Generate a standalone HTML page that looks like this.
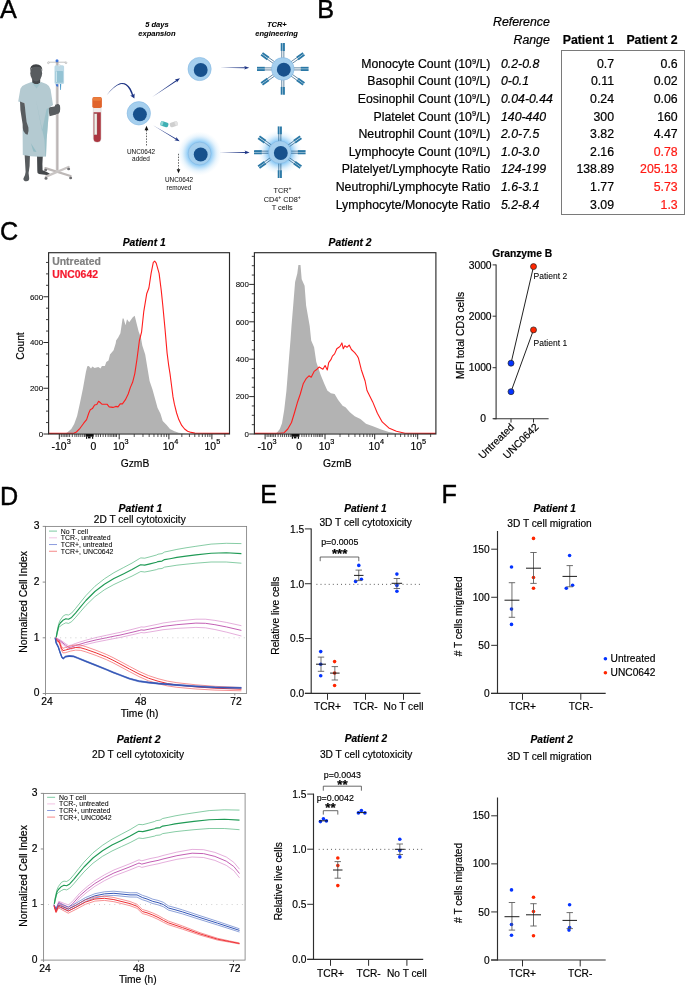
<!DOCTYPE html>
<html lang="en"><head><meta charset="utf-8"><title>Figure</title>
<style>
html,body{margin:0;padding:0;background:#fff;}
body{width:685px;height:985px;overflow:hidden;}
svg{display:block;font-family:'Liberation Sans', Arial, Helvetica, sans-serif;}
text{stroke-linejoin:round;}
</style></head><body>
<svg width="685" height="985" viewBox="0 0 685 985">
<rect width="685" height="985" fill="#fff"/>
<defs>
<radialGradient id="glow" cx="50%" cy="50%" r="50%"><stop offset="0" stop-color="#8ccaf6" stop-opacity="1"/><stop offset="0.52" stop-color="#8ccaf6" stop-opacity="1"/><stop offset="0.64" stop-color="#9dd2f7" stop-opacity="0.72"/><stop offset="0.8" stop-color="#b4dcf8" stop-opacity="0.3"/><stop offset="1" stop-color="#d5ecfb" stop-opacity="0"/></radialGradient>
<linearGradient id="tap" x1="0" y1="0" x2="1" y2="0"><stop offset="0" stop-color="#1e3a8a" stop-opacity="0.25"/><stop offset="0.35" stop-color="#1e3a8a" stop-opacity="0.9"/><stop offset="1" stop-color="#1b2f7e"/></linearGradient>
</defs>
<g id="panelA">
<text x="0.00" y="17.50" font-size="25.20" stroke="#000" stroke-width="0.43">A</text>
<text x="156.90" y="26.80" font-size="7.55" text-anchor="middle" font-weight="bold" font-style="italic" stroke="#000" stroke-width="0.06">5 days</text>
<text x="156.90" y="35.60" font-size="7.55" text-anchor="middle" font-weight="bold" font-style="italic" stroke="#000" stroke-width="0.06">expansion</text>
<text x="276.80" y="26.80" font-size="7.50" text-anchor="middle" font-weight="bold" font-style="italic" stroke="#000" stroke-width="0.06">TCR+</text>
<text x="276.60" y="35.60" font-size="7.50" text-anchor="middle" font-weight="bold" font-style="italic" stroke="#000" stroke-width="0.06">engineering</text>
<path d="M24.6,154 L30.0,154 L29.6,166 L28.6,173 L29.2,178.2 Q29.3,181 26.4,181.2 Q23.2,181.2 23.4,178.4 Q25.4,175.5 25.6,172 Z" fill="#585c5f"/>
<path d="M37.0,154 L42.9,154 L42.4,164 L42.6,170.3 Q46.5,171.6 49.6,173.6 Q50.4,175.0 48.6,175.2 L39.0,174.0 Q37.0,173.4 37.3,171 Z" fill="#45484b"/>
<path d="M48.0,107.6 L54.6,106.4 Q55.4,103.6 57.6,103.8 Q60.2,104.2 60.2,108 Q60.4,112.6 58.0,114.0 L49.6,116.2 Z" fill="#585c5f"/>
<path d="M32.2,77 L40.2,77 L40.2,83 Q36.3,86.4 32.2,83 Z" fill="#45484b"/>
<ellipse cx="36.2" cy="73.2" rx="5.9" ry="8.3" fill="#585c5f"/>
<path d="M30.0,71.5 Q29.4,64.4 36.0,64.2 Q42.6,64.2 42.4,71.0 Q41.4,67.6 39.6,66.9 Q34.4,66.2 32.2,67.6 Q30.8,68.6 30.0,71.5 Z" fill="#3f4245"/>
<path d="M31.4,82.0 Q36.2,86.6 41.2,82.0 L46.4,84.0 Q49.6,85.6 50.6,89.4 L53.0,105.0 L48.8,107.9 L48.4,118 L46.6,140 L46.0,156.5 Q34,157.6 22.8,155.0 L22.6,130 L24.0,112 L25.2,103.6 L18.2,101.4 L20.4,88.8 Q21.6,85.6 25.6,84.2 Z" fill="#b4cad1"/>
<path d="M36.2,101 L40.6,122 L44.4,140 L45.4,156.3 L46.0,156.5 L46.6,140 L48.4,118 L48.8,107.9 L46.6,109 L42.0,131 Z" fill="#93bcc4" opacity="0.75"/>
<path d="M30.8,143 L36.6,152 L33.4,151.6 Z" fill="#93bcc4"/>
<path d="M31.4,82.0 Q36.2,86.6 41.2,82.0 L36.6,88.4 Z" fill="#93bcc4" opacity="0.6"/>
<path d="M20.0,101.6 L24.6,103.2 L25.4,112 L26.6,122 L28.4,127.5 Q29.0,131.8 27.6,134.8 Q25.2,134.4 23.4,131.0 Q22.6,128.5 22.6,124 L20.4,110 Z" fill="#585c5f"/>
<rect x="55.8" y="61.5" width="2.5" height="109.0" fill="#c6c1c0"/>
<rect x="57.5" y="61.5" width="0.8" height="109.0" fill="#b0aaa9"/>
<line x1="48.40" y1="62.20" x2="66.00" y2="62.20" stroke="#9a9a9a" stroke-width="0.6" />
<circle cx="48.4" cy="62.8" r="0.9" fill="#fff" stroke="#9a9a9a" stroke-width="0.5"/>
<circle cx="66.0" cy="62.8" r="0.9" fill="#fff" stroke="#9a9a9a" stroke-width="0.5"/>
<circle cx="57.00" cy="60.80" r="1.50" fill="#3c73d8" />
<path d="M54.8,106.6 Q55.6,103.8 57.8,104.0 Q60.0,104.4 60.0,108 Q60.2,112.4 58.0,113.8 L55.0,114.6 Z" fill="#585c5f"/>
<rect x="54.5" y="65.2" width="9.6" height="18.8" rx="1.6" fill="#bcd9e6"/>
<rect x="55.5" y="71.0" width="7.6" height="11.8" rx="0.8" fill="#94c3d4"/>
<rect x="56.0" y="71.4" width="1.0" height="10.6" fill="#c9e3ec"/>
<rect x="58.2" y="64.6" width="2.2" height="2.0" rx="0.6" fill="#dfe9ee" stroke="#b8c5cc" stroke-width="0.3"/>
<path d="M59.9,84 L61.2,84 L61.0,89.4 Q60.6,90.8 60.2,89.4 Z" fill="#4d9ccb"/>
<path d="M55.6,84.2 L58.2,84.2 L58.2,86.8 L56.4,86.2 Z" fill="#3c73d8"/>
<line x1="45.40" y1="168.20" x2="70.60" y2="176.00" stroke="#bdb8b7" stroke-width="2.3" stroke-linecap="round"/>
<line x1="46.00" y1="176.60" x2="68.60" y2="167.00" stroke="#c9c5c4" stroke-width="2.3" stroke-linecap="round"/>
<ellipse cx="45.6" cy="170.0" rx="1.5" ry="1.3" fill="#6d6d70"/>
<ellipse cx="46.0" cy="178.4" rx="1.5" ry="1.3" fill="#6d6d70"/>
<ellipse cx="68.6" cy="169.0" rx="1.5" ry="1.3" fill="#6d6d70"/>
<ellipse cx="70.6" cy="178.0" rx="1.5" ry="1.3" fill="#6d6d70"/>
<path d="M93.3,107 L101.1,107 L101.1,138.6 Q101.1,142.4 97.2,142.4 Q93.3,142.4 93.3,138.6 Z" fill="#efeceb" stroke="#c9c2c0" stroke-width="0.4"/>
<path d="M93.6,112.2 L100.8,112.2 L100.8,138.5 Q100.8,142.1 97.2,142.1 Q93.6,142.1 93.6,138.5 Z" fill="#ab3640"/>
<rect x="94.2" y="113.8" width="2.8" height="21.0" fill="#f1efe9" stroke="#8a7f78" stroke-width="0.3"/>
<rect x="92.3" y="97.1" width="9.6" height="11.0" rx="1.8" fill="#e0632b"/>
<rect x="92.9" y="97.3" width="8.4" height="3.4" rx="1.5" fill="#ea7d3c"/>
<circle cx="138.80" cy="113.30" r="11.70" fill="#a5cfee" stroke="#7fb4df" stroke-width="0.55"/>
<circle cx="139.90" cy="114.30" r="6.95" fill="#17518d" />
<circle cx="199.60" cy="69.00" r="11.60" fill="#a5cfee" stroke="#7fb4df" stroke-width="0.55"/>
<circle cx="200.70" cy="70.00" r="6.95" fill="#17518d" />
<circle cx="199.60" cy="153.50" r="22.00" fill="url(#glow)" />
<circle cx="199.60" cy="153.50" r="11.40" fill="#a5cfee" stroke="#7fb4df" stroke-width="0.55"/>
<circle cx="200.70" cy="154.50" r="6.95" fill="#17518d" />
<line x1="293.30" y1="67.85" x2="301.20" y2="67.85" stroke="#245880" stroke-width="0.7" />
<line x1="293.30" y1="69.95" x2="301.20" y2="69.95" stroke="#245880" stroke-width="0.7" />
<line x1="300.80" y1="67.75" x2="308.60" y2="67.75" stroke="#2a78a6" stroke-width="1.85" />
<line x1="300.80" y1="70.05" x2="308.60" y2="70.05" stroke="#2a78a6" stroke-width="1.85" />
<line x1="290.74" y1="61.95" x2="297.17" y2="57.36" stroke="#245880" stroke-width="0.7" />
<line x1="291.96" y1="63.66" x2="298.39" y2="59.07" stroke="#245880" stroke-width="0.7" />
<line x1="296.79" y1="57.51" x2="303.14" y2="52.98" stroke="#2a78a6" stroke-width="1.85" />
<line x1="298.12" y1="59.38" x2="304.47" y2="54.85" stroke="#2a78a6" stroke-width="1.85" />
<line x1="281.75" y1="58.40" x2="281.75" y2="50.50" stroke="#245880" stroke-width="0.7" />
<line x1="283.85" y1="58.40" x2="283.85" y2="50.50" stroke="#245880" stroke-width="0.7" />
<line x1="281.65" y1="50.90" x2="281.65" y2="43.10" stroke="#2a78a6" stroke-width="1.85" />
<line x1="283.95" y1="50.90" x2="283.95" y2="43.10" stroke="#2a78a6" stroke-width="1.85" />
<line x1="273.64" y1="63.66" x2="267.21" y2="59.07" stroke="#245880" stroke-width="0.7" />
<line x1="274.86" y1="61.95" x2="268.43" y2="57.36" stroke="#245880" stroke-width="0.7" />
<line x1="267.48" y1="59.38" x2="261.13" y2="54.85" stroke="#2a78a6" stroke-width="1.85" />
<line x1="268.81" y1="57.51" x2="262.46" y2="52.98" stroke="#2a78a6" stroke-width="1.85" />
<line x1="272.30" y1="69.95" x2="264.40" y2="69.95" stroke="#245880" stroke-width="0.7" />
<line x1="272.30" y1="67.85" x2="264.40" y2="67.85" stroke="#245880" stroke-width="0.7" />
<line x1="264.80" y1="70.05" x2="257.00" y2="70.05" stroke="#2a78a6" stroke-width="1.85" />
<line x1="264.80" y1="67.75" x2="257.00" y2="67.75" stroke="#2a78a6" stroke-width="1.85" />
<line x1="274.86" y1="75.85" x2="268.43" y2="80.44" stroke="#245880" stroke-width="0.7" />
<line x1="273.64" y1="74.14" x2="267.21" y2="78.73" stroke="#245880" stroke-width="0.7" />
<line x1="268.81" y1="80.29" x2="262.46" y2="84.82" stroke="#2a78a6" stroke-width="1.85" />
<line x1="267.48" y1="78.42" x2="261.13" y2="82.95" stroke="#2a78a6" stroke-width="1.85" />
<line x1="283.85" y1="79.40" x2="283.85" y2="87.30" stroke="#245880" stroke-width="0.7" />
<line x1="281.75" y1="79.40" x2="281.75" y2="87.30" stroke="#245880" stroke-width="0.7" />
<line x1="283.95" y1="86.90" x2="283.95" y2="94.70" stroke="#2a78a6" stroke-width="1.85" />
<line x1="281.65" y1="86.90" x2="281.65" y2="94.70" stroke="#2a78a6" stroke-width="1.85" />
<line x1="291.96" y1="74.14" x2="298.39" y2="78.73" stroke="#245880" stroke-width="0.7" />
<line x1="290.74" y1="75.85" x2="297.17" y2="80.44" stroke="#245880" stroke-width="0.7" />
<line x1="298.12" y1="78.42" x2="304.47" y2="82.95" stroke="#2a78a6" stroke-width="1.85" />
<line x1="296.79" y1="80.29" x2="303.14" y2="84.82" stroke="#2a78a6" stroke-width="1.85" />
<circle cx="282.80" cy="68.90" r="11.30" fill="#a5cfee" stroke="#7fb4df" stroke-width="0.55"/>
<circle cx="283.80" cy="69.70" r="6.95" fill="#17518d" />
<circle cx="279.80" cy="152.20" r="22.00" fill="url(#glow)" />
<line x1="290.30" y1="151.15" x2="298.20" y2="151.15" stroke="#245880" stroke-width="0.7" />
<line x1="290.30" y1="153.25" x2="298.20" y2="153.25" stroke="#245880" stroke-width="0.7" />
<line x1="297.80" y1="151.05" x2="305.60" y2="151.05" stroke="#2a78a6" stroke-width="1.85" />
<line x1="297.80" y1="153.35" x2="305.60" y2="153.35" stroke="#2a78a6" stroke-width="1.85" />
<line x1="287.74" y1="145.25" x2="294.17" y2="140.66" stroke="#245880" stroke-width="0.7" />
<line x1="288.96" y1="146.96" x2="295.39" y2="142.37" stroke="#245880" stroke-width="0.7" />
<line x1="293.79" y1="140.81" x2="300.14" y2="136.28" stroke="#2a78a6" stroke-width="1.85" />
<line x1="295.12" y1="142.68" x2="301.47" y2="138.15" stroke="#2a78a6" stroke-width="1.85" />
<line x1="278.75" y1="141.70" x2="278.75" y2="133.80" stroke="#245880" stroke-width="0.7" />
<line x1="280.85" y1="141.70" x2="280.85" y2="133.80" stroke="#245880" stroke-width="0.7" />
<line x1="278.65" y1="134.20" x2="278.65" y2="126.40" stroke="#2a78a6" stroke-width="1.85" />
<line x1="280.95" y1="134.20" x2="280.95" y2="126.40" stroke="#2a78a6" stroke-width="1.85" />
<line x1="270.64" y1="146.96" x2="264.21" y2="142.37" stroke="#245880" stroke-width="0.7" />
<line x1="271.86" y1="145.25" x2="265.43" y2="140.66" stroke="#245880" stroke-width="0.7" />
<line x1="264.48" y1="142.68" x2="258.13" y2="138.15" stroke="#2a78a6" stroke-width="1.85" />
<line x1="265.81" y1="140.81" x2="259.46" y2="136.28" stroke="#2a78a6" stroke-width="1.85" />
<line x1="269.30" y1="153.25" x2="261.40" y2="153.25" stroke="#245880" stroke-width="0.7" />
<line x1="269.30" y1="151.15" x2="261.40" y2="151.15" stroke="#245880" stroke-width="0.7" />
<line x1="261.80" y1="153.35" x2="254.00" y2="153.35" stroke="#2a78a6" stroke-width="1.85" />
<line x1="261.80" y1="151.05" x2="254.00" y2="151.05" stroke="#2a78a6" stroke-width="1.85" />
<line x1="271.86" y1="159.15" x2="265.43" y2="163.74" stroke="#245880" stroke-width="0.7" />
<line x1="270.64" y1="157.44" x2="264.21" y2="162.03" stroke="#245880" stroke-width="0.7" />
<line x1="265.81" y1="163.59" x2="259.46" y2="168.12" stroke="#2a78a6" stroke-width="1.85" />
<line x1="264.48" y1="161.72" x2="258.13" y2="166.25" stroke="#2a78a6" stroke-width="1.85" />
<line x1="280.85" y1="162.70" x2="280.85" y2="170.60" stroke="#245880" stroke-width="0.7" />
<line x1="278.75" y1="162.70" x2="278.75" y2="170.60" stroke="#245880" stroke-width="0.7" />
<line x1="280.95" y1="170.20" x2="280.95" y2="178.00" stroke="#2a78a6" stroke-width="1.85" />
<line x1="278.65" y1="170.20" x2="278.65" y2="178.00" stroke="#2a78a6" stroke-width="1.85" />
<line x1="288.96" y1="157.44" x2="295.39" y2="162.03" stroke="#245880" stroke-width="0.7" />
<line x1="287.74" y1="159.15" x2="294.17" y2="163.74" stroke="#245880" stroke-width="0.7" />
<line x1="295.12" y1="161.72" x2="301.47" y2="166.25" stroke="#2a78a6" stroke-width="1.85" />
<line x1="293.79" y1="163.59" x2="300.14" y2="168.12" stroke="#2a78a6" stroke-width="1.85" />
<circle cx="279.80" cy="152.20" r="11.30" fill="#a5cfee" stroke="#7fb4df" stroke-width="0.55"/>
<circle cx="280.80" cy="153.00" r="6.95" fill="#17518d" />
<polygon points="152.30,96.90 177.37,80.70 176.79,79.83" fill="#1c3384"/>
<polygon points="180.00,78.30 176.85,82.58 176.76,80.47 174.85,79.59" fill="#1c3384"/>
<polygon points="153.00,125.20 176.31,139.84 176.85,138.94" fill="#1c3384"/>
<polygon points="179.60,141.20 174.39,140.17 176.26,139.19 176.24,137.08" fill="#1c3384"/>
<polygon points="220.00,67.80 245.68,68.33 245.68,67.27" fill="#1c3384"/>
<polygon points="249.20,67.80 244.20,69.60 245.30,67.80 244.20,66.00" fill="#1c3384"/>
<polygon points="219.00,152.40 246.08,152.93 246.08,151.88" fill="#1c3384"/>
<polygon points="249.60,152.40 244.60,154.20 245.70,152.40 244.60,150.60" fill="#1c3384"/>
<path d="M106.6,95.3 Q113.5,85.6 120.0,83.2 Q126.6,81.6 130.6,88.6 Q132.6,92.2 133.4,95.6 L132.2,96.0 Q130.8,92.4 129.4,89.6 Q125.8,83.4 120.4,84.2 Q114.0,86.0 106.6,95.3 Z" fill="#1c3384"/>
<polygon points="134.4,98.6 130.2,95.6 132.6,95.2 134.6,93.4" fill="#1c3384"/>
<line x1="146.50" y1="130.00" x2="146.50" y2="146.60" stroke="#222" stroke-width="0.7" stroke-dasharray="1.5 1.3"/>
<polygon points="146.5,125.8 148.4,130.2 144.6,130.2" fill="#111"/>
<line x1="178.50" y1="153.80" x2="178.50" y2="169.60" stroke="#222" stroke-width="0.7" stroke-dasharray="1.5 1.3"/>
<polygon points="178.5,173.2 180.3,169.2 176.7,169.2" fill="#111"/>
<g transform="rotate(18 164.4 124.2)"><rect x="160.4" y="121.8" width="8.0" height="4.8" rx="1.6" fill="#3fb0b4"/><rect x="160.4" y="121.8" width="2.6" height="4.8" rx="1.4" fill="#8fd5d6"/></g>
<g transform="rotate(-18 173.8 124.2)"><rect x="169.8" y="121.8" width="8.0" height="4.8" rx="1.6" fill="#cfcfcf"/><rect x="175.0" y="121.8" width="2.8" height="4.8" rx="1.4" fill="#e3e3e3"/></g>
<text x="141.00" y="153.60" font-size="6.40" text-anchor="middle" fill="#1a1a1a" stroke="#1a1a1a" stroke-width="0.05">UNC0642</text>
<text x="141.00" y="160.90" font-size="6.40" text-anchor="middle" fill="#1a1a1a" stroke="#1a1a1a" stroke-width="0.05">added</text>
<text x="179.00" y="181.90" font-size="6.40" text-anchor="middle" fill="#1a1a1a" stroke="#1a1a1a" stroke-width="0.05">UNC0642</text>
<text x="179.00" y="189.60" font-size="6.40" text-anchor="middle" fill="#1a1a1a" stroke="#1a1a1a" stroke-width="0.05">removed</text>
<text x="282.40" y="192.80" font-size="7.30" text-anchor="middle" fill="#1a1a1a" stroke="#1a1a1a" stroke-width="0.06">TCR<tspan font-size="5.0" dy="-2.7">+</tspan></text>
<text x="282.20" y="201.70" font-size="7.30" text-anchor="middle" fill="#1a1a1a" stroke="#1a1a1a" stroke-width="0.06">CD4<tspan font-size="5.0" dy="-2.7">+</tspan><tspan dy="2.7"> CD8</tspan><tspan font-size="5.0" dy="-2.7">+</tspan></text>
<text x="282.20" y="210.40" font-size="7.30" text-anchor="middle" fill="#1a1a1a" stroke="#1a1a1a" stroke-width="0.06">T cells</text>
</g>
<g id="panelB">
<text x="317.20" y="17.50" font-size="25.20" stroke="#000" stroke-width="0.43">B</text>
<text x="549.80" y="26.30" font-size="12.30" text-anchor="end" font-style="italic" stroke="#000" stroke-width="0.21">Reference</text>
<text x="549.80" y="43.80" font-size="12.30" text-anchor="end" font-style="italic" stroke="#000" stroke-width="0.21">Range</text>
<text x="614.00" y="43.80" font-size="12.30" text-anchor="end" font-weight="bold" stroke="#000" stroke-width="0.21">Patient 1</text>
<text x="677.70" y="43.80" font-size="12.30" text-anchor="end" font-weight="bold" stroke="#000" stroke-width="0.21">Patient 2</text>
<rect x="561.5" y="50.5" width="123" height="164" fill="none" stroke="#7a7a7a" stroke-width="1"/>
<text x="490.40" y="67.70" font-size="12.30" text-anchor="end" stroke="#000" stroke-width="0.21">Monocyte Count (10<tspan font-size="7.4" dy="-4.1">9</tspan><tspan dy="4.1">/L)</tspan></text>
<text x="501.00" y="67.70" font-size="12.30" font-style="italic" stroke="#000" stroke-width="0.21">0.2-0.8</text>
<text x="614.00" y="67.70" font-size="12.30" text-anchor="end" stroke="#000" stroke-width="0.21">0.7</text>
<text x="677.70" y="67.70" font-size="12.30" text-anchor="end" stroke="#000" stroke-width="0.21">0.6</text>
<text x="490.40" y="85.33" font-size="12.30" text-anchor="end" stroke="#000" stroke-width="0.21">Basophil Count (10<tspan font-size="7.4" dy="-4.1">9</tspan><tspan dy="4.1">/L)</tspan></text>
<text x="501.00" y="85.33" font-size="12.30" font-style="italic" stroke="#000" stroke-width="0.21">0-0.1</text>
<text x="614.00" y="85.33" font-size="12.30" text-anchor="end" stroke="#000" stroke-width="0.21">0.11</text>
<text x="677.70" y="85.33" font-size="12.30" text-anchor="end" stroke="#000" stroke-width="0.21">0.02</text>
<text x="490.40" y="102.96" font-size="12.30" text-anchor="end" stroke="#000" stroke-width="0.21">Eosinophil Count (10<tspan font-size="7.4" dy="-4.1">9</tspan><tspan dy="4.1">/L)</tspan></text>
<text x="501.00" y="102.96" font-size="12.30" font-style="italic" stroke="#000" stroke-width="0.21">0.04-0.44</text>
<text x="614.00" y="102.96" font-size="12.30" text-anchor="end" stroke="#000" stroke-width="0.21">0.24</text>
<text x="677.70" y="102.96" font-size="12.30" text-anchor="end" stroke="#000" stroke-width="0.21">0.06</text>
<text x="490.40" y="120.59" font-size="12.30" text-anchor="end" stroke="#000" stroke-width="0.21">Platelet Count (10<tspan font-size="7.4" dy="-4.1">9</tspan><tspan dy="4.1">/L)</tspan></text>
<text x="501.00" y="120.59" font-size="12.30" font-style="italic" stroke="#000" stroke-width="0.21">140-440</text>
<text x="614.00" y="120.59" font-size="12.30" text-anchor="end" stroke="#000" stroke-width="0.21">300</text>
<text x="677.70" y="120.59" font-size="12.30" text-anchor="end" stroke="#000" stroke-width="0.21">160</text>
<text x="490.40" y="138.22" font-size="12.30" text-anchor="end" stroke="#000" stroke-width="0.21">Neutrophil Count (10<tspan font-size="7.4" dy="-4.1">9</tspan><tspan dy="4.1">/L)</tspan></text>
<text x="501.00" y="138.22" font-size="12.30" font-style="italic" stroke="#000" stroke-width="0.21">2.0-7.5</text>
<text x="614.00" y="138.22" font-size="12.30" text-anchor="end" stroke="#000" stroke-width="0.21">3.82</text>
<text x="677.70" y="138.22" font-size="12.30" text-anchor="end" stroke="#000" stroke-width="0.21">4.47</text>
<text x="490.40" y="155.85" font-size="12.30" text-anchor="end" stroke="#000" stroke-width="0.21">Lymphocyte Count (10<tspan font-size="7.4" dy="-4.1">9</tspan><tspan dy="4.1">/L)</tspan></text>
<text x="501.00" y="155.85" font-size="12.30" font-style="italic" stroke="#000" stroke-width="0.21">1.0-3.0</text>
<text x="614.00" y="155.85" font-size="12.30" text-anchor="end" stroke="#000" stroke-width="0.21">2.16</text>
<text x="677.70" y="155.85" font-size="12.30" text-anchor="end" fill="#ff1a14" stroke="#ff1a14" stroke-width="0.21">0.78</text>
<text x="490.40" y="173.48" font-size="12.30" text-anchor="end" stroke="#000" stroke-width="0.21">Platelyet/Lymphocyte Ratio</text>
<text x="501.00" y="173.48" font-size="12.30" font-style="italic" stroke="#000" stroke-width="0.21">124-199</text>
<text x="614.00" y="173.48" font-size="12.30" text-anchor="end" stroke="#000" stroke-width="0.21">138.89</text>
<text x="677.70" y="173.48" font-size="12.30" text-anchor="end" fill="#ff1a14" stroke="#ff1a14" stroke-width="0.21">205.13</text>
<text x="490.40" y="191.11" font-size="12.30" text-anchor="end" stroke="#000" stroke-width="0.21">Neutrophi/Lymphocyte Ratio</text>
<text x="501.00" y="191.11" font-size="12.30" font-style="italic" stroke="#000" stroke-width="0.21">1.6-3.1</text>
<text x="614.00" y="191.11" font-size="12.30" text-anchor="end" stroke="#000" stroke-width="0.21">1.77</text>
<text x="677.70" y="191.11" font-size="12.30" text-anchor="end" fill="#ff1a14" stroke="#ff1a14" stroke-width="0.21">5.73</text>
<text x="490.40" y="208.74" font-size="12.30" text-anchor="end" stroke="#000" stroke-width="0.21">Lymphocyte/Monocyte Ratio</text>
<text x="501.00" y="208.74" font-size="12.30" font-style="italic" stroke="#000" stroke-width="0.21">5.2-8.4</text>
<text x="614.00" y="208.74" font-size="12.30" text-anchor="end" stroke="#000" stroke-width="0.21">3.09</text>
<text x="677.70" y="208.74" font-size="12.30" text-anchor="end" fill="#ff1a14" stroke="#ff1a14" stroke-width="0.21">1.3</text>
</g>
<g id="panelC">
<text x="0.00" y="240.10" font-size="25.20" stroke="#000" stroke-width="0.43">C</text>
<polygon points="64.0,433.4 66.9,432.7 71.3,429.0 74.2,424.0 77.1,415.9 80.0,402.8 83.0,388.2 85.9,372.1 87.3,366.3 88.8,366.0 91.0,368.5 92.4,366.6 94.6,368.0 98.3,367.0 100.5,368.5 101.9,366.0 104.9,366.0 106.3,361.9 108.5,360.4 110.0,354.6 113.6,350.2 115.8,342.9 116.1,340.5 118.2,337.6 120.4,333.2 122.6,318.6 123.6,318.6 125.5,325.2 127.0,319.3 129.2,322.3 132.8,317.2 134.7,315.7 136.5,323.0 138.7,331.8 140.9,337.6 142.3,345.5 145.2,354.6 147.4,367.7 149.6,380.9 152.5,389.6 155.4,399.9 157.6,407.9 160.5,413.7 162.7,421.0 166.4,424.7 170.0,429.0 174.4,431.2 178.8,432.7 186.0,433.4" fill="#b3b3b3"/>
<polyline points="48.6,433.4 74.2,433.1 76.4,432.0 80.0,428.3 83.7,423.2 86.6,419.6 88.8,413.0 90.3,409.8 92.4,408.6 94.6,405.0 96.8,404.5 98.6,401.3 100.5,402.8 101.9,404.2 107.0,404.2 109.2,406.9 112.9,407.4 115.8,406.4 118.0,406.9 120.2,403.9 122.4,403.9 125.3,399.9 128.2,394.0 130.4,387.4 132.6,382.3 134.8,373.6 137.0,359.0 139.4,340.5 141.6,331.8 143.8,311.3 146.7,293.8 148.9,288.0 151.1,273.4 153.3,262.4 154.7,261.2 156.2,263.1 159.1,273.4 161.3,290.9 162.8,305.5 165.0,328.8 167.1,353.1 168.6,364.8 170.0,373.6 171.5,385.3 173.0,396.9 174.4,404.2 176.6,413.0 178.8,419.6 181.7,425.4 184.6,429.0 187.6,431.2 191.2,432.4 194.9,433.1 229.5,433.4" fill="none" stroke="#ff1d1d" stroke-width="1.1" stroke-linejoin="round"/>
<rect x="48.60" y="252.70" width="180.90" height="181.30" fill="none" stroke="#2a2a2a" stroke-width="1.15"/>
<line x1="43.40" y1="434.00" x2="48.60" y2="434.00" stroke="#2a2a2a" stroke-width="1" />
<text x="43.10" y="436.85" font-size="7.90" text-anchor="end" stroke="#000" stroke-width="0.06">0</text>
<line x1="46.00" y1="422.56" x2="48.60" y2="422.56" stroke="#2a2a2a" stroke-width="0.9" />
<line x1="46.00" y1="411.12" x2="48.60" y2="411.12" stroke="#2a2a2a" stroke-width="0.9" />
<line x1="46.00" y1="399.69" x2="48.60" y2="399.69" stroke="#2a2a2a" stroke-width="0.9" />
<line x1="43.40" y1="388.25" x2="48.60" y2="388.25" stroke="#2a2a2a" stroke-width="1" />
<text x="43.10" y="391.10" font-size="7.90" text-anchor="end" stroke="#000" stroke-width="0.06">200</text>
<line x1="46.00" y1="376.81" x2="48.60" y2="376.81" stroke="#2a2a2a" stroke-width="0.9" />
<line x1="46.00" y1="365.38" x2="48.60" y2="365.38" stroke="#2a2a2a" stroke-width="0.9" />
<line x1="46.00" y1="353.94" x2="48.60" y2="353.94" stroke="#2a2a2a" stroke-width="0.9" />
<line x1="43.40" y1="342.50" x2="48.60" y2="342.50" stroke="#2a2a2a" stroke-width="1" />
<text x="43.10" y="345.35" font-size="7.90" text-anchor="end" stroke="#000" stroke-width="0.06">400</text>
<line x1="46.00" y1="331.06" x2="48.60" y2="331.06" stroke="#2a2a2a" stroke-width="0.9" />
<line x1="46.00" y1="319.62" x2="48.60" y2="319.62" stroke="#2a2a2a" stroke-width="0.9" />
<line x1="46.00" y1="308.19" x2="48.60" y2="308.19" stroke="#2a2a2a" stroke-width="0.9" />
<line x1="43.40" y1="296.75" x2="48.60" y2="296.75" stroke="#2a2a2a" stroke-width="1" />
<text x="43.10" y="299.60" font-size="7.90" text-anchor="end" stroke="#000" stroke-width="0.06">600</text>
<line x1="46.00" y1="285.31" x2="48.60" y2="285.31" stroke="#2a2a2a" stroke-width="0.9" />
<line x1="46.00" y1="273.88" x2="48.60" y2="273.88" stroke="#2a2a2a" stroke-width="0.9" />
<line x1="46.00" y1="262.44" x2="48.60" y2="262.44" stroke="#2a2a2a" stroke-width="0.9" />
<line x1="59.30" y1="434.00" x2="59.30" y2="439.30" stroke="#2a2a2a" stroke-width="1" />
<line x1="119.20" y1="434.00" x2="119.20" y2="439.30" stroke="#2a2a2a" stroke-width="1" />
<line x1="168.90" y1="434.00" x2="168.90" y2="439.30" stroke="#2a2a2a" stroke-width="1" />
<line x1="211.90" y1="434.00" x2="211.90" y2="439.30" stroke="#2a2a2a" stroke-width="1" />
<line x1="134.23" y1="434.00" x2="134.23" y2="437.00" stroke="#2a2a2a" stroke-width="0.8" />
<line x1="181.84" y1="434.00" x2="181.84" y2="437.00" stroke="#2a2a2a" stroke-width="0.8" />
<line x1="142.97" y1="434.00" x2="142.97" y2="437.00" stroke="#2a2a2a" stroke-width="0.8" />
<line x1="189.42" y1="434.00" x2="189.42" y2="437.00" stroke="#2a2a2a" stroke-width="0.8" />
<line x1="149.16" y1="434.00" x2="149.16" y2="437.00" stroke="#2a2a2a" stroke-width="0.8" />
<line x1="194.79" y1="434.00" x2="194.79" y2="437.00" stroke="#2a2a2a" stroke-width="0.8" />
<line x1="153.97" y1="434.00" x2="153.97" y2="437.00" stroke="#2a2a2a" stroke-width="0.8" />
<line x1="198.96" y1="434.00" x2="198.96" y2="437.00" stroke="#2a2a2a" stroke-width="0.8" />
<line x1="157.90" y1="434.00" x2="157.90" y2="437.00" stroke="#2a2a2a" stroke-width="0.8" />
<line x1="202.36" y1="434.00" x2="202.36" y2="437.00" stroke="#2a2a2a" stroke-width="0.8" />
<line x1="161.22" y1="434.00" x2="161.22" y2="437.00" stroke="#2a2a2a" stroke-width="0.8" />
<line x1="205.24" y1="434.00" x2="205.24" y2="437.00" stroke="#2a2a2a" stroke-width="0.8" />
<line x1="164.09" y1="434.00" x2="164.09" y2="437.00" stroke="#2a2a2a" stroke-width="0.8" />
<line x1="207.73" y1="434.00" x2="207.73" y2="437.00" stroke="#2a2a2a" stroke-width="0.8" />
<line x1="166.63" y1="434.00" x2="166.63" y2="437.00" stroke="#2a2a2a" stroke-width="0.8" />
<line x1="209.93" y1="434.00" x2="209.93" y2="437.00" stroke="#2a2a2a" stroke-width="0.8" />
<line x1="224.84" y1="434.00" x2="224.84" y2="437.00" stroke="#2a2a2a" stroke-width="0.8" />
<line x1="61.30" y1="434.00" x2="61.30" y2="437.00" stroke="#2a2a2a" stroke-width="0.8" />
<line x1="63.10" y1="434.00" x2="63.10" y2="437.00" stroke="#2a2a2a" stroke-width="0.8" />
<line x1="64.80" y1="434.00" x2="64.80" y2="437.00" stroke="#2a2a2a" stroke-width="0.8" />
<line x1="66.30" y1="434.00" x2="66.30" y2="437.00" stroke="#2a2a2a" stroke-width="0.8" />
<line x1="67.90" y1="434.00" x2="67.90" y2="437.00" stroke="#2a2a2a" stroke-width="0.8" />
<line x1="69.60" y1="434.00" x2="69.60" y2="437.00" stroke="#2a2a2a" stroke-width="0.8" />
<line x1="72.30" y1="434.00" x2="72.30" y2="437.00" stroke="#2a2a2a" stroke-width="0.8" />
<line x1="74.90" y1="434.00" x2="74.90" y2="437.00" stroke="#2a2a2a" stroke-width="0.8" />
<line x1="76.80" y1="434.00" x2="76.80" y2="437.00" stroke="#2a2a2a" stroke-width="0.8" />
<line x1="78.80" y1="434.00" x2="78.80" y2="437.00" stroke="#2a2a2a" stroke-width="0.8" />
<line x1="80.80" y1="434.00" x2="80.80" y2="437.00" stroke="#2a2a2a" stroke-width="0.8" />
<line x1="82.80" y1="434.00" x2="82.80" y2="437.00" stroke="#2a2a2a" stroke-width="0.8" />
<line x1="84.50" y1="434.00" x2="84.50" y2="437.00" stroke="#2a2a2a" stroke-width="0.8" />
<line x1="96.10" y1="434.00" x2="96.10" y2="437.00" stroke="#2a2a2a" stroke-width="0.8" />
<line x1="98.30" y1="434.00" x2="98.30" y2="437.00" stroke="#2a2a2a" stroke-width="0.8" />
<line x1="100.50" y1="434.00" x2="100.50" y2="437.00" stroke="#2a2a2a" stroke-width="0.8" />
<line x1="103.10" y1="434.00" x2="103.10" y2="437.00" stroke="#2a2a2a" stroke-width="0.8" />
<line x1="105.60" y1="434.00" x2="105.60" y2="437.00" stroke="#2a2a2a" stroke-width="0.8" />
<line x1="108.10" y1="434.00" x2="108.10" y2="437.00" stroke="#2a2a2a" stroke-width="0.8" />
<line x1="110.10" y1="434.00" x2="110.10" y2="437.00" stroke="#2a2a2a" stroke-width="0.8" />
<line x1="111.90" y1="434.00" x2="111.90" y2="437.00" stroke="#2a2a2a" stroke-width="0.8" />
<line x1="113.60" y1="434.00" x2="113.60" y2="437.00" stroke="#2a2a2a" stroke-width="0.8" />
<line x1="115.10" y1="434.00" x2="115.10" y2="437.00" stroke="#2a2a2a" stroke-width="0.8" />
<line x1="116.50" y1="434.00" x2="116.50" y2="437.00" stroke="#2a2a2a" stroke-width="0.8" />
<rect x="85.50" y="434.00" width="8.2" height="2.7" fill="#111"/>
<rect x="86.00" y="436.40" width="1.2" height="2.4" fill="#111"/>
<rect x="88.00" y="436.40" width="2.6" height="2.0" fill="#111"/>
<rect x="92.00" y="436.40" width="1.2" height="2.4" fill="#111"/>
<text x="51.60" y="449.70" font-size="10.40" stroke="#000" stroke-width="0.18">-10<tspan font-size="7.3" dy="-5.5">3</tspan></text>
<text x="93.40" y="449.70" font-size="10.40" text-anchor="middle" stroke="#000" stroke-width="0.18">0</text>
<text x="113.00" y="449.70" font-size="10.40" stroke="#000" stroke-width="0.18">10<tspan font-size="7.3" dy="-5.5">3</tspan></text>
<text x="162.70" y="449.70" font-size="10.40" stroke="#000" stroke-width="0.18">10<tspan font-size="7.3" dy="-5.5">4</tspan></text>
<text x="204.60" y="449.70" font-size="10.40" stroke="#000" stroke-width="0.18">10<tspan font-size="7.3" dy="-5.5">5</tspan></text>
<text x="135.00" y="466.50" font-size="10.30" text-anchor="middle" stroke="#000" stroke-width="0.18">GzmB</text>
<text x="144.20" y="245.50" font-size="10.30" text-anchor="middle" font-weight="bold" font-style="italic" stroke="#000" stroke-width="0.18">Patient 1</text>
<text x="52.20" y="264.80" font-size="10.45" font-weight="bold" fill="#7f7f7f" stroke="#7f7f7f" stroke-width="0.18">Untreated</text>
<text x="52.20" y="277.80" font-size="10.45" font-weight="bold" fill="#f5192d" stroke="#f5192d" stroke-width="0.18">UNC0642</text>
<text x="23.60" y="346.00" font-size="10.30" text-anchor="middle" stroke="#000" stroke-width="0.18" transform="rotate(-90 23.60 346.00)">Count</text>
<polygon points="274.0,433.4 276.9,432.7 279.8,429.0 282.0,423.2 284.2,410.0 286.4,391.1 287.8,373.6 289.3,354.6 290.5,340.0 291.5,325.9 293.2,305.5 295.1,282.1 297.3,273.4 298.4,264.9 300.5,264.9 301.7,279.2 304.6,285.8 306.1,305.5 309.7,325.9 311.2,340.5 314.1,347.3 316.3,361.9 320.7,375.0 324.3,383.8 327.3,390.4 330.9,393.3 334.6,394.0 338.2,399.9 342.6,405.7 345.5,407.2 349.9,412.3 354.7,416.2 360.4,419.0 366.0,423.7 373.6,426.6 381.2,429.4 388.8,431.9 396.4,433.2 400.0,433.4" fill="#b3b3b3"/>
<polyline points="254.4,433.4 279.8,433.3 284.2,432.7 287.8,429.0 291.5,422.5 294.4,413.0 297.3,402.8 300.3,394.0 303.2,383.8 306.1,378.7 309.0,375.8 311.2,377.2 314.1,371.4 317.0,369.2 319.2,367.0 322.9,369.2 325.1,365.5 327.3,369.9 328.7,362.6 330.9,359.7 332.4,356.1 334.6,353.9 336.8,348.8 338.9,347.3 340.4,345.8 341.9,342.9 343.3,348.8 344.8,345.8 347.0,347.3 349.2,345.1 351.4,349.5 354.7,352.6 357.3,356.0 358.5,358.3 361.3,369.7 365.1,381.0 367.0,390.5 372.7,401.9 377.4,413.3 382.2,421.9 388.8,427.9 396.4,431.3 405.0,433.3 435.9,433.4" fill="none" stroke="#ff1d1d" stroke-width="1.1" stroke-linejoin="round"/>
<rect x="254.40" y="252.70" width="181.50" height="181.30" fill="none" stroke="#2a2a2a" stroke-width="1.15"/>
<line x1="249.20" y1="434.00" x2="254.40" y2="434.00" stroke="#2a2a2a" stroke-width="1" />
<text x="248.90" y="436.85" font-size="7.90" text-anchor="end" stroke="#000" stroke-width="0.06">0</text>
<line x1="251.80" y1="424.65" x2="254.40" y2="424.65" stroke="#2a2a2a" stroke-width="0.9" />
<line x1="251.80" y1="415.30" x2="254.40" y2="415.30" stroke="#2a2a2a" stroke-width="0.9" />
<line x1="251.80" y1="405.95" x2="254.40" y2="405.95" stroke="#2a2a2a" stroke-width="0.9" />
<line x1="249.20" y1="396.60" x2="254.40" y2="396.60" stroke="#2a2a2a" stroke-width="1" />
<text x="248.90" y="399.45" font-size="7.90" text-anchor="end" stroke="#000" stroke-width="0.06">200</text>
<line x1="251.80" y1="387.25" x2="254.40" y2="387.25" stroke="#2a2a2a" stroke-width="0.9" />
<line x1="251.80" y1="377.90" x2="254.40" y2="377.90" stroke="#2a2a2a" stroke-width="0.9" />
<line x1="251.80" y1="368.55" x2="254.40" y2="368.55" stroke="#2a2a2a" stroke-width="0.9" />
<line x1="249.20" y1="359.20" x2="254.40" y2="359.20" stroke="#2a2a2a" stroke-width="1" />
<text x="248.90" y="362.05" font-size="7.90" text-anchor="end" stroke="#000" stroke-width="0.06">400</text>
<line x1="251.80" y1="349.85" x2="254.40" y2="349.85" stroke="#2a2a2a" stroke-width="0.9" />
<line x1="251.80" y1="340.50" x2="254.40" y2="340.50" stroke="#2a2a2a" stroke-width="0.9" />
<line x1="251.80" y1="331.15" x2="254.40" y2="331.15" stroke="#2a2a2a" stroke-width="0.9" />
<line x1="249.20" y1="321.80" x2="254.40" y2="321.80" stroke="#2a2a2a" stroke-width="1" />
<text x="248.90" y="324.65" font-size="7.90" text-anchor="end" stroke="#000" stroke-width="0.06">600</text>
<line x1="251.80" y1="312.45" x2="254.40" y2="312.45" stroke="#2a2a2a" stroke-width="0.9" />
<line x1="251.80" y1="303.10" x2="254.40" y2="303.10" stroke="#2a2a2a" stroke-width="0.9" />
<line x1="251.80" y1="293.75" x2="254.40" y2="293.75" stroke="#2a2a2a" stroke-width="0.9" />
<line x1="249.20" y1="284.40" x2="254.40" y2="284.40" stroke="#2a2a2a" stroke-width="1" />
<text x="248.90" y="287.25" font-size="7.90" text-anchor="end" stroke="#000" stroke-width="0.06">800</text>
<line x1="251.80" y1="275.05" x2="254.40" y2="275.05" stroke="#2a2a2a" stroke-width="0.9" />
<line x1="251.80" y1="265.70" x2="254.40" y2="265.70" stroke="#2a2a2a" stroke-width="0.9" />
<line x1="251.80" y1="256.35" x2="254.40" y2="256.35" stroke="#2a2a2a" stroke-width="0.9" />
<line x1="265.10" y1="434.00" x2="265.10" y2="439.30" stroke="#2a2a2a" stroke-width="1" />
<line x1="325.00" y1="434.00" x2="325.00" y2="439.30" stroke="#2a2a2a" stroke-width="1" />
<line x1="374.70" y1="434.00" x2="374.70" y2="439.30" stroke="#2a2a2a" stroke-width="1" />
<line x1="417.70" y1="434.00" x2="417.70" y2="439.30" stroke="#2a2a2a" stroke-width="1" />
<line x1="340.03" y1="434.00" x2="340.03" y2="437.00" stroke="#2a2a2a" stroke-width="0.8" />
<line x1="387.64" y1="434.00" x2="387.64" y2="437.00" stroke="#2a2a2a" stroke-width="0.8" />
<line x1="348.77" y1="434.00" x2="348.77" y2="437.00" stroke="#2a2a2a" stroke-width="0.8" />
<line x1="395.22" y1="434.00" x2="395.22" y2="437.00" stroke="#2a2a2a" stroke-width="0.8" />
<line x1="354.96" y1="434.00" x2="354.96" y2="437.00" stroke="#2a2a2a" stroke-width="0.8" />
<line x1="400.59" y1="434.00" x2="400.59" y2="437.00" stroke="#2a2a2a" stroke-width="0.8" />
<line x1="359.77" y1="434.00" x2="359.77" y2="437.00" stroke="#2a2a2a" stroke-width="0.8" />
<line x1="404.76" y1="434.00" x2="404.76" y2="437.00" stroke="#2a2a2a" stroke-width="0.8" />
<line x1="363.70" y1="434.00" x2="363.70" y2="437.00" stroke="#2a2a2a" stroke-width="0.8" />
<line x1="408.16" y1="434.00" x2="408.16" y2="437.00" stroke="#2a2a2a" stroke-width="0.8" />
<line x1="367.02" y1="434.00" x2="367.02" y2="437.00" stroke="#2a2a2a" stroke-width="0.8" />
<line x1="411.04" y1="434.00" x2="411.04" y2="437.00" stroke="#2a2a2a" stroke-width="0.8" />
<line x1="369.89" y1="434.00" x2="369.89" y2="437.00" stroke="#2a2a2a" stroke-width="0.8" />
<line x1="413.53" y1="434.00" x2="413.53" y2="437.00" stroke="#2a2a2a" stroke-width="0.8" />
<line x1="372.43" y1="434.00" x2="372.43" y2="437.00" stroke="#2a2a2a" stroke-width="0.8" />
<line x1="415.73" y1="434.00" x2="415.73" y2="437.00" stroke="#2a2a2a" stroke-width="0.8" />
<line x1="430.64" y1="434.00" x2="430.64" y2="437.00" stroke="#2a2a2a" stroke-width="0.8" />
<line x1="267.10" y1="434.00" x2="267.10" y2="437.00" stroke="#2a2a2a" stroke-width="0.8" />
<line x1="268.90" y1="434.00" x2="268.90" y2="437.00" stroke="#2a2a2a" stroke-width="0.8" />
<line x1="270.60" y1="434.00" x2="270.60" y2="437.00" stroke="#2a2a2a" stroke-width="0.8" />
<line x1="272.10" y1="434.00" x2="272.10" y2="437.00" stroke="#2a2a2a" stroke-width="0.8" />
<line x1="273.70" y1="434.00" x2="273.70" y2="437.00" stroke="#2a2a2a" stroke-width="0.8" />
<line x1="275.40" y1="434.00" x2="275.40" y2="437.00" stroke="#2a2a2a" stroke-width="0.8" />
<line x1="278.10" y1="434.00" x2="278.10" y2="437.00" stroke="#2a2a2a" stroke-width="0.8" />
<line x1="280.70" y1="434.00" x2="280.70" y2="437.00" stroke="#2a2a2a" stroke-width="0.8" />
<line x1="282.60" y1="434.00" x2="282.60" y2="437.00" stroke="#2a2a2a" stroke-width="0.8" />
<line x1="284.60" y1="434.00" x2="284.60" y2="437.00" stroke="#2a2a2a" stroke-width="0.8" />
<line x1="286.60" y1="434.00" x2="286.60" y2="437.00" stroke="#2a2a2a" stroke-width="0.8" />
<line x1="288.60" y1="434.00" x2="288.60" y2="437.00" stroke="#2a2a2a" stroke-width="0.8" />
<line x1="290.30" y1="434.00" x2="290.30" y2="437.00" stroke="#2a2a2a" stroke-width="0.8" />
<line x1="301.90" y1="434.00" x2="301.90" y2="437.00" stroke="#2a2a2a" stroke-width="0.8" />
<line x1="304.10" y1="434.00" x2="304.10" y2="437.00" stroke="#2a2a2a" stroke-width="0.8" />
<line x1="306.30" y1="434.00" x2="306.30" y2="437.00" stroke="#2a2a2a" stroke-width="0.8" />
<line x1="308.90" y1="434.00" x2="308.90" y2="437.00" stroke="#2a2a2a" stroke-width="0.8" />
<line x1="311.40" y1="434.00" x2="311.40" y2="437.00" stroke="#2a2a2a" stroke-width="0.8" />
<line x1="313.90" y1="434.00" x2="313.90" y2="437.00" stroke="#2a2a2a" stroke-width="0.8" />
<line x1="315.90" y1="434.00" x2="315.90" y2="437.00" stroke="#2a2a2a" stroke-width="0.8" />
<line x1="317.70" y1="434.00" x2="317.70" y2="437.00" stroke="#2a2a2a" stroke-width="0.8" />
<line x1="319.40" y1="434.00" x2="319.40" y2="437.00" stroke="#2a2a2a" stroke-width="0.8" />
<line x1="320.90" y1="434.00" x2="320.90" y2="437.00" stroke="#2a2a2a" stroke-width="0.8" />
<line x1="322.30" y1="434.00" x2="322.30" y2="437.00" stroke="#2a2a2a" stroke-width="0.8" />
<rect x="291.30" y="434.00" width="8.2" height="2.7" fill="#111"/>
<rect x="291.80" y="436.40" width="1.2" height="2.4" fill="#111"/>
<rect x="293.80" y="436.40" width="2.6" height="2.0" fill="#111"/>
<rect x="297.80" y="436.40" width="1.2" height="2.4" fill="#111"/>
<text x="257.40" y="449.70" font-size="10.40" stroke="#000" stroke-width="0.18">-10<tspan font-size="7.3" dy="-5.5">3</tspan></text>
<text x="299.20" y="449.70" font-size="10.40" text-anchor="middle" stroke="#000" stroke-width="0.18">0</text>
<text x="318.80" y="449.70" font-size="10.40" stroke="#000" stroke-width="0.18">10<tspan font-size="7.3" dy="-5.5">3</tspan></text>
<text x="368.50" y="449.70" font-size="10.40" stroke="#000" stroke-width="0.18">10<tspan font-size="7.3" dy="-5.5">4</tspan></text>
<text x="410.40" y="449.70" font-size="10.40" stroke="#000" stroke-width="0.18">10<tspan font-size="7.3" dy="-5.5">5</tspan></text>
<text x="337.30" y="466.50" font-size="10.30" text-anchor="middle" stroke="#000" stroke-width="0.18">GzmB</text>
<text x="350.00" y="245.50" font-size="10.30" text-anchor="middle" font-weight="bold" font-style="italic" stroke="#000" stroke-width="0.18">Patient 2</text>
<line x1="496.10" y1="264.40" x2="496.10" y2="419.20" stroke="#333" stroke-width="1.1" />
<line x1="493.40" y1="418.70" x2="548.60" y2="418.70" stroke="#333" stroke-width="1.1" />
<line x1="492.60" y1="264.90" x2="496.10" y2="264.90" stroke="#333" stroke-width="1" />
<text x="491.60" y="268.50" font-size="10.30" text-anchor="end" stroke="#000" stroke-width="0.18">3000</text>
<line x1="492.60" y1="316.20" x2="496.10" y2="316.20" stroke="#333" stroke-width="1" />
<text x="491.60" y="319.80" font-size="10.30" text-anchor="end" stroke="#000" stroke-width="0.18">2000</text>
<line x1="492.60" y1="367.70" x2="496.10" y2="367.70" stroke="#333" stroke-width="1" />
<text x="491.60" y="371.30" font-size="10.30" text-anchor="end" stroke="#000" stroke-width="0.18">1000</text>
<line x1="492.60" y1="418.70" x2="496.10" y2="418.70" stroke="#333" stroke-width="1" />
<text x="486.00" y="422.30" font-size="10.30" text-anchor="end" stroke="#000" stroke-width="0.18">0</text>
<line x1="511.00" y1="418.70" x2="511.00" y2="422.60" stroke="#333" stroke-width="1" />
<line x1="533.50" y1="418.70" x2="533.50" y2="422.60" stroke="#333" stroke-width="1" />
<line x1="511.00" y1="363.20" x2="533.50" y2="266.60" stroke="#222" stroke-width="1" />
<line x1="511.00" y1="391.70" x2="533.50" y2="329.90" stroke="#222" stroke-width="1" />
<circle cx="511.00" cy="363.20" r="3.00" fill="#0433ff" stroke="#222" stroke-width="0.7"/>
<circle cx="511.00" cy="391.70" r="3.00" fill="#0433ff" stroke="#222" stroke-width="0.7"/>
<circle cx="533.50" cy="266.60" r="3.00" fill="#ff2600" stroke="#222" stroke-width="0.7"/>
<circle cx="533.50" cy="329.90" r="3.00" fill="#ff2600" stroke="#222" stroke-width="0.7"/>
<text x="522.20" y="257.20" font-size="10.30" text-anchor="middle" font-weight="bold" stroke="#000" stroke-width="0.18">Granzyme B</text>
<text x="533.60" y="278.80" font-size="8.50" stroke="#000" stroke-width="0.07">Patient 2</text>
<text x="533.60" y="345.70" font-size="8.50" stroke="#000" stroke-width="0.07">Patient 1</text>
<text x="463.80" y="335.40" font-size="10.30" text-anchor="middle" stroke="#000" stroke-width="0.18" transform="rotate(-90 463.80 335.40)">MFI total CD3 cells</text>
<text x="514.80" y="427.60" font-size="10.30" text-anchor="end" stroke="#000" stroke-width="0.18" transform="rotate(-45 514.80 427.60)">Untreated</text>
<text x="539.20" y="427.60" font-size="10.30" text-anchor="end" stroke="#000" stroke-width="0.18" transform="rotate(-45 539.20 427.60)">UNC0642</text>
</g>
<g id="panelD">
<text x="0.00" y="505.40" font-size="25.20" stroke="#000" stroke-width="0.43">D</text>
<polyline points="56.2,636.7 57.3,630.4 58.8,623.4 60.3,620.0 63.4,615.8 65.9,614.6 68.5,615.0 71.6,613.1 75.7,608.3 80.8,601.9 85.9,595.6 94.9,586.3 104.4,578.8 113.9,572.7 123.3,567.7 132.0,563.1 139.6,558.5 140.8,557.9 144.7,558.2 150.0,556.8 156.5,555.0 158.0,554.2 162.0,553.6 164.6,552.0 170.0,550.9 176.9,549.4 186.0,547.8 195.9,546.3 211.1,544.1 226.3,543.3 241.4,543.6" fill="none" stroke="#3fae70" stroke-width="0.7" stroke-linejoin="round" opacity="0.9"/>
<polyline points="56.2,637.9 57.3,633.0 58.8,627.6 60.3,626.0 63.4,624.0 65.9,622.8 68.5,623.4 71.6,621.7 75.7,617.3 80.8,611.3 85.9,605.4 94.9,596.7 104.4,589.8 113.9,584.5 123.3,580.1 132.0,576.1 139.6,572.1 140.8,571.5 144.7,572.0 150.0,571.0 156.5,569.6 158.0,568.9 162.0,568.5 164.6,567.1 170.0,566.3 176.9,565.2 186.0,564.2 195.9,563.2 211.1,562.0 226.3,562.0 241.4,563.2" fill="none" stroke="#3fae70" stroke-width="0.7" stroke-linejoin="round" opacity="0.9"/>
<polyline points="56.2,637.3 57.3,631.7 58.8,625.5 60.3,623.0 63.4,619.9 65.9,618.7 68.5,619.2 71.6,617.4 75.7,612.8 80.8,606.6 85.9,600.5 94.9,591.5 104.4,584.3 113.9,578.6 123.3,573.9 132.0,569.6 139.6,565.3 140.8,564.7 144.7,565.1 150.0,563.9 156.5,562.3 158.0,561.6 162.0,561.1 164.6,559.6 170.0,558.7 176.9,557.4 186.0,556.1 195.9,554.9 211.1,553.2 226.3,552.8 241.4,553.6" fill="none" stroke="#1f9a55" stroke-width="1.15" stroke-linejoin="round"/>
<polyline points="55.2,637.3 60.3,639.9 65.4,643.5 68.5,645.7 71.6,645.0 75.7,643.4 85.9,640.2 96.1,637.5 106.3,635.3 115.0,633.4 120.0,632.4 132.0,629.4 139.8,627.4 141.0,626.9 144.0,627.1 152.0,625.4 158.0,624.2 163.0,623.0 176.9,621.1 195.9,619.2 205.4,619.2 214.9,620.4 226.3,622.4 241.4,625.7" fill="none" stroke="#d57fc8" stroke-width="0.7" stroke-linejoin="round" opacity="0.9"/>
<polyline points="55.2,638.3 60.3,641.9 65.4,646.5 68.5,649.3 71.6,649.0 75.7,647.5 85.9,644.5 96.1,642.1 106.3,640.1 115.0,638.4 120.0,637.5 132.0,634.8 139.8,633.0 141.0,632.5 144.0,632.9 152.0,631.6 158.0,630.6 163.0,629.7 176.9,628.4 195.9,627.4 205.4,627.8 214.9,629.5 226.3,632.1 241.4,636.0" fill="none" stroke="#d57fc8" stroke-width="0.7" stroke-linejoin="round" opacity="0.9"/>
<polyline points="55.2,637.8 60.3,640.9 65.4,645.0 68.5,647.5 71.6,647.0 75.7,645.5 85.9,642.4 96.1,639.9 106.3,637.8 115.0,636.0 120.0,635.1 132.0,632.3 139.8,630.4 141.0,629.9 144.0,630.2 152.0,628.6 158.0,627.5 163.0,626.4 176.9,624.7 195.9,623.1 205.4,623.3 214.9,624.7 226.3,626.9 241.4,630.4" fill="none" stroke="#c35fb4" stroke-width="1" stroke-linejoin="round"/>
<polyline points="55.2,637.4 57.3,640.1 59.3,640.6 61.4,646.1 62.9,648.3 65.4,647.5 70.5,645.9 75.7,644.9 80.8,645.2 85.9,646.7 96.1,650.3 106.3,654.4 113.0,657.6 120.0,661.3 129.5,666.4 139.0,671.4 148.5,675.6 158.0,678.7 167.4,681.1 176.9,682.7 195.9,684.8 214.9,686.3 241.4,687.6" fill="none" stroke="#f25255" stroke-width="0.7" stroke-linejoin="round" opacity="0.9"/>
<polyline points="55.2,638.2 57.3,641.7 59.3,643.2 61.4,649.9 62.9,652.9 65.4,652.7 70.5,651.1 75.7,650.1 80.8,650.4 85.9,651.9 96.1,655.5 106.3,659.6 113.0,662.8 120.0,666.5 129.5,671.6 139.0,676.6 148.5,680.8 158.0,683.7 167.4,685.9 176.9,687.3 195.9,689.0 214.9,690.1 241.4,690.8" fill="none" stroke="#f25255" stroke-width="0.7" stroke-linejoin="round" opacity="0.9"/>
<polyline points="55.2,637.8 57.3,640.9 59.3,641.9 61.4,648.0 62.9,650.6 65.4,650.1 70.5,648.5 75.7,647.5 80.8,647.8 85.9,649.3 96.1,652.9 106.3,657.0 113.0,660.2 120.0,663.9 129.5,669.0 139.0,674.0 148.5,678.2 158.0,681.2 167.4,683.5 176.9,685.0 195.9,686.9 214.9,688.2 241.4,689.2" fill="none" stroke="#ee2f33" stroke-width="1" stroke-linejoin="round"/>
<polyline points="55.2,637.2 56.2,642.4 58.3,646.5 60.3,652.6 61.9,656.7 63.2,658.0 65.4,656.2 69.5,655.5 73.6,655.9 77.7,657.5 85.9,660.8 96.1,664.9 106.3,669.0 113.0,671.8 120.0,674.5 129.5,678.2 139.0,680.7 148.5,682.0 158.0,683.0 176.9,684.5 195.9,685.8 214.9,686.8 241.4,687.4" fill="none" stroke="#3557b7" stroke-width="0.7" stroke-linejoin="round" opacity="0.9"/>
<polyline points="55.2,638.3 56.2,643.4 58.3,647.5 60.3,653.6 61.9,657.8 63.2,659.0 65.4,657.2 69.5,656.5 73.6,656.9 77.7,658.5 85.9,661.8 96.1,665.9 106.3,670.0 113.0,672.8 120.0,675.5 129.5,679.2 139.0,681.8 148.5,683.0 158.0,684.0 176.9,685.5 195.9,686.8 214.9,687.8 241.4,688.4" fill="none" stroke="#3557b7" stroke-width="0.7" stroke-linejoin="round" opacity="0.9"/>
<polyline points="55.2,637.8 56.2,642.9 58.3,647.0 60.3,653.1 61.9,657.2 63.2,658.5 65.4,656.7 69.5,656.0 73.6,656.4 77.7,658.0 85.9,661.3 96.1,665.4 106.3,669.5 113.0,672.3 120.0,675.0 129.5,678.7 139.0,681.2 148.5,682.5 158.0,683.5 176.9,685.0 195.9,686.3 214.9,687.3 241.4,687.9" fill="none" stroke="#3557b7" stroke-width="1.3" stroke-linejoin="round"/>
<line x1="50.00" y1="637.80" x2="245.60" y2="637.80" stroke="#bdbdbd" stroke-width="0.8" stroke-dasharray="0.9 4.2"/>
<rect x="45.50" y="526.40" width="201.10" height="167.10" fill="none" stroke="#808080" stroke-width="0.85"/>
<line x1="42.70" y1="693.50" x2="45.50" y2="693.50" stroke="#808080" stroke-width="0.9" />
<text x="39.50" y="696.40" font-size="10.30" text-anchor="end" stroke="#000" stroke-width="0.18">0</text>
<line x1="42.70" y1="637.80" x2="45.50" y2="637.80" stroke="#808080" stroke-width="0.9" />
<text x="39.50" y="640.70" font-size="10.30" text-anchor="end" stroke="#000" stroke-width="0.18">1</text>
<line x1="42.70" y1="582.10" x2="45.50" y2="582.10" stroke="#808080" stroke-width="0.9" />
<text x="39.50" y="585.00" font-size="10.30" text-anchor="end" stroke="#000" stroke-width="0.18">2</text>
<line x1="42.70" y1="526.40" x2="45.50" y2="526.40" stroke="#808080" stroke-width="0.9" />
<text x="39.50" y="529.30" font-size="10.30" text-anchor="end" stroke="#000" stroke-width="0.18">3</text>
<line x1="45.50" y1="693.50" x2="45.50" y2="695.40" stroke="#808080" stroke-width="0.9" />
<text x="46.90" y="705.10" font-size="10.30" text-anchor="middle" stroke="#000" stroke-width="0.18">24</text>
<line x1="140.50" y1="693.50" x2="140.50" y2="695.40" stroke="#808080" stroke-width="0.9" />
<text x="140.70" y="705.10" font-size="10.30" text-anchor="middle" stroke="#000" stroke-width="0.18">48</text>
<line x1="234.80" y1="693.50" x2="234.80" y2="695.40" stroke="#808080" stroke-width="0.9" />
<text x="236.00" y="705.10" font-size="10.30" text-anchor="middle" stroke="#000" stroke-width="0.18">72</text>
<text x="140.40" y="511.80" font-size="10.50" text-anchor="middle" font-weight="bold" font-style="italic" stroke="#000" stroke-width="0.18">Patient 1</text>
<text x="139.80" y="522.60" font-size="10.15" text-anchor="middle" stroke="#000" stroke-width="0.17">2D T cell cytotoxicity</text>
<text x="139.60" y="716.50" font-size="10.25" text-anchor="middle" stroke="#000" stroke-width="0.17">Time (h)</text>
<text x="27.40" y="601.90" font-size="10.40" text-anchor="middle" stroke="#000" stroke-width="0.18" transform="rotate(-90 27.40 601.90)">Normalized Cell Index</text>
<line x1="49.00" y1="531.10" x2="57.00" y2="531.10" stroke="#5cbc8a" stroke-width="0.8" />
<text x="60.80" y="533.50" font-size="6.95" stroke="#000" stroke-width="0.06">No T cell</text>
<line x1="49.00" y1="537.82" x2="57.00" y2="537.82" stroke="#efb5dc" stroke-width="0.8" />
<text x="60.80" y="540.22" font-size="6.95" stroke="#000" stroke-width="0.06">TCR-, untreated</text>
<line x1="49.00" y1="544.54" x2="57.00" y2="544.54" stroke="#6f83d6" stroke-width="0.8" />
<text x="60.80" y="546.94" font-size="6.95" stroke="#000" stroke-width="0.06">TCR+, untreated</text>
<line x1="49.00" y1="551.26" x2="57.00" y2="551.26" stroke="#f26a6a" stroke-width="0.8" />
<text x="60.80" y="553.66" font-size="6.95" stroke="#000" stroke-width="0.06">TCR+, UNC0642</text>
<polyline points="54.3,903.2 55.4,896.9 56.9,889.9 58.4,886.5 61.5,882.3 64.0,881.1 66.6,881.5 69.7,879.6 73.8,874.8 78.9,868.4 84.0,862.1 93.0,852.8 102.5,845.3 112.0,839.2 121.4,834.2 130.1,829.6 137.7,825.0 138.9,824.4 142.8,824.7 148.1,823.3 154.6,821.5 156.1,820.7 160.1,820.1 162.7,818.5 168.1,817.4 175.0,815.9 184.1,814.3 194.0,812.8 209.2,810.6 224.4,809.8 239.5,810.1" fill="none" stroke="#3fae70" stroke-width="0.7" stroke-linejoin="round" opacity="0.9"/>
<polyline points="54.3,904.4 55.4,899.5 56.9,894.1 58.4,892.5 61.5,890.5 64.0,889.3 66.6,889.9 69.7,888.2 73.8,883.8 78.9,877.8 84.0,871.9 93.0,863.2 102.5,856.3 112.0,851.0 121.4,846.6 130.1,842.6 137.7,838.6 138.9,838.0 142.8,838.5 148.1,837.5 154.6,836.1 156.1,835.4 160.1,835.0 162.7,833.6 168.1,832.8 175.0,831.7 184.1,830.7 194.0,829.7 209.2,828.5 224.4,828.5 239.5,829.7" fill="none" stroke="#3fae70" stroke-width="0.7" stroke-linejoin="round" opacity="0.9"/>
<polyline points="54.3,903.8 55.4,898.2 56.9,892.0 58.4,889.5 61.5,886.4 64.0,885.2 66.6,885.7 69.7,883.9 73.8,879.3 78.9,873.1 84.0,867.0 93.0,858.0 102.5,850.8 112.0,845.1 121.4,840.4 130.1,836.1 137.7,831.8 138.9,831.2 142.8,831.6 148.1,830.4 154.6,828.8 156.1,828.1 160.1,827.6 162.7,826.1 168.1,825.2 175.0,823.9 184.1,822.6 194.0,821.4 209.2,819.7 224.4,819.3 239.5,820.1" fill="none" stroke="#1f9a55" stroke-width="1.15" stroke-linejoin="round"/>
<polyline points="54.1,904.8 56.0,908.8 58.8,901.3 64.5,903.5 68.3,904.9 72.1,901.8 79.7,893.2 87.3,886.5 94.9,880.7 104.4,874.9 113.9,870.0 130.0,863.7 137.8,860.3 139.0,859.8 141.8,860.8 150.0,858.6 158.0,857.0 163.0,855.5 176.9,852.1 192.1,849.4 203.5,849.7 214.9,852.4 226.3,857.0 233.8,862.3 239.5,869.2" fill="none" stroke="#d57fc8" stroke-width="0.7" stroke-linejoin="round" opacity="0.9"/>
<polyline points="54.1,905.8 56.0,910.2 58.8,903.5 64.5,907.1 68.3,909.5 72.1,906.8 79.7,898.4 87.3,891.9 94.9,886.3 104.4,880.7 113.9,876.0 130.0,869.9 137.8,866.7 139.0,866.2 141.8,867.4 150.0,865.4 158.0,863.8 163.0,862.5 176.9,859.3 192.1,857.0 203.5,857.5 214.9,860.4 226.3,865.4 233.8,870.7 239.5,877.8" fill="none" stroke="#d57fc8" stroke-width="0.7" stroke-linejoin="round" opacity="0.9"/>
<polyline points="54.1,905.3 56.0,909.5 58.8,902.4 64.5,905.3 68.3,907.2 72.1,904.3 79.7,895.8 87.3,889.2 94.9,883.5 104.4,877.8 113.9,873.0 130.0,866.8 137.8,863.5 139.0,863.0 141.8,864.1 150.0,862.0 158.0,860.4 163.0,859.0 176.9,855.7 192.1,853.2 203.5,853.6 214.9,856.4 226.3,861.2 233.8,866.5 239.5,873.5" fill="none" stroke="#c35fb4" stroke-width="1" stroke-linejoin="round"/>
<polyline points="54.1,904.8 56.0,909.1 58.5,903.7 60.7,904.1 68.3,907.1 75.9,903.3 85.4,897.6 94.9,893.7 104.4,891.8 113.9,891.2 130.0,892.8 137.0,892.7 142.3,895.3 147.0,896.8 152.8,899.2 158.0,900.4 163.3,902.3 168.5,905.9 176.0,907.9 182.5,909.9 200.0,915.7 217.6,921.4 239.5,928.8" fill="none" stroke="#4b6ac2" stroke-width="0.7" stroke-linejoin="round" opacity="0.9"/>
<polyline points="54.1,905.8 56.0,910.9 58.5,906.3 60.7,907.7 68.3,911.1 75.9,907.3 85.4,901.6 94.9,897.9 104.4,896.0 113.9,895.4 130.0,897.0 137.0,897.1 142.3,899.7 147.0,901.2 152.8,903.6 158.0,904.8 163.3,906.7 168.5,910.1 176.0,912.1 182.5,913.9 200.0,919.5 217.6,925.0 239.5,932.0" fill="none" stroke="#4b6ac2" stroke-width="0.7" stroke-linejoin="round" opacity="0.9"/>
<polyline points="54.1,905.3 56.0,910.0 58.5,905.0 60.7,905.9 68.3,909.1 75.9,905.3 85.4,899.6 94.9,895.8 104.4,893.9 113.9,893.3 130.0,894.9 137.0,894.9 142.3,897.5 147.0,899.0 152.8,901.4 158.0,902.6 163.3,904.5 168.5,908.0 176.0,910.0 182.5,911.9 200.0,917.6 217.6,923.2 239.5,930.4" fill="none" stroke="#3557b7" stroke-width="1" stroke-linejoin="round"/>
<polyline points="54.1,905.4 56.0,911.1 58.5,905.0 60.7,905.3 68.3,908.8 75.9,905.0 85.4,899.9 94.9,896.9 104.4,896.2 113.9,897.5 130.0,901.5 137.0,904.3 142.3,909.5 147.0,910.8 152.8,913.0 158.0,915.4 163.3,918.4 168.5,921.1 176.0,923.7 182.5,926.0 200.0,932.7 217.6,938.3 229.8,941.0 239.5,943.0" fill="none" stroke="#f25255" stroke-width="0.7" stroke-linejoin="round" opacity="0.9"/>
<polyline points="54.1,906.4 56.0,912.9 58.5,908.0 60.7,909.1 68.3,913.2 75.9,909.4 85.4,904.3 94.9,901.1 104.4,900.4 113.9,901.7 130.0,905.7 137.0,908.3 142.3,913.5 147.0,914.8 152.8,917.0 158.0,919.4 163.3,922.2 168.5,924.7 176.0,927.1 182.5,929.2 200.0,935.1 217.6,940.1 229.8,942.2 239.5,944.0" fill="none" stroke="#f25255" stroke-width="0.7" stroke-linejoin="round" opacity="0.9"/>
<polyline points="54.1,905.9 56.0,912.0 58.5,906.5 60.7,907.2 68.3,911.0 75.9,907.2 85.4,902.1 94.9,899.0 104.4,898.3 113.9,899.6 130.0,903.6 137.0,906.3 142.3,911.5 147.0,912.8 152.8,915.0 158.0,917.4 163.3,920.3 168.5,922.9 176.0,925.4 182.5,927.6 200.0,933.9 217.6,939.2 229.8,941.6 239.5,943.5" fill="none" stroke="#ee2f33" stroke-width="1" stroke-linejoin="round"/>
<line x1="48.10" y1="904.53" x2="244.10" y2="904.53" stroke="#bdbdbd" stroke-width="0.8" stroke-dasharray="0.9 4.2"/>
<rect x="43.60" y="793.40" width="201.50" height="166.70" fill="none" stroke="#808080" stroke-width="0.85"/>
<line x1="40.80" y1="960.10" x2="43.60" y2="960.10" stroke="#808080" stroke-width="0.9" />
<text x="37.60" y="963.00" font-size="10.30" text-anchor="end" stroke="#000" stroke-width="0.18">0</text>
<line x1="40.80" y1="904.53" x2="43.60" y2="904.53" stroke="#808080" stroke-width="0.9" />
<text x="37.60" y="907.43" font-size="10.30" text-anchor="end" stroke="#000" stroke-width="0.18">1</text>
<line x1="40.80" y1="848.97" x2="43.60" y2="848.97" stroke="#808080" stroke-width="0.9" />
<text x="37.60" y="851.87" font-size="10.30" text-anchor="end" stroke="#000" stroke-width="0.18">2</text>
<line x1="40.80" y1="793.40" x2="43.60" y2="793.40" stroke="#808080" stroke-width="0.9" />
<text x="37.60" y="796.30" font-size="10.30" text-anchor="end" stroke="#000" stroke-width="0.18">3</text>
<line x1="43.60" y1="960.10" x2="43.60" y2="962.00" stroke="#808080" stroke-width="0.9" />
<text x="45.00" y="971.70" font-size="10.30" text-anchor="middle" stroke="#000" stroke-width="0.18">24</text>
<line x1="138.60" y1="960.10" x2="138.60" y2="962.00" stroke="#808080" stroke-width="0.9" />
<text x="138.80" y="971.70" font-size="10.30" text-anchor="middle" stroke="#000" stroke-width="0.18">48</text>
<line x1="233.50" y1="960.10" x2="233.50" y2="962.00" stroke="#808080" stroke-width="0.9" />
<text x="234.70" y="971.70" font-size="10.30" text-anchor="middle" stroke="#000" stroke-width="0.18">72</text>
<text x="138.60" y="742.60" font-size="10.50" text-anchor="middle" font-weight="bold" font-style="italic" stroke="#000" stroke-width="0.18">Patient 2</text>
<text x="138.00" y="757.80" font-size="10.15" text-anchor="middle" stroke="#000" stroke-width="0.17">2D T cell cytotoxicity</text>
<text x="137.80" y="983.10" font-size="10.25" text-anchor="middle" stroke="#000" stroke-width="0.17">Time (h)</text>
<text x="27.40" y="876.00" font-size="10.40" text-anchor="middle" stroke="#000" stroke-width="0.18" transform="rotate(-90 27.40 876.00)">Normalized Cell Index</text>
<line x1="47.10" y1="797.30" x2="55.10" y2="797.30" stroke="#5cbc8a" stroke-width="0.8" />
<text x="58.90" y="799.70" font-size="6.95" stroke="#000" stroke-width="0.06">No T cell</text>
<line x1="47.10" y1="803.90" x2="55.10" y2="803.90" stroke="#efb5dc" stroke-width="0.8" />
<text x="58.90" y="806.30" font-size="6.95" stroke="#000" stroke-width="0.06">TCR-, untreated</text>
<line x1="47.10" y1="810.50" x2="55.10" y2="810.50" stroke="#6f83d6" stroke-width="0.8" />
<text x="58.90" y="812.90" font-size="6.95" stroke="#000" stroke-width="0.06">TCR+, untreated</text>
<line x1="47.10" y1="817.10" x2="55.10" y2="817.10" stroke="#f26a6a" stroke-width="0.8" />
<text x="58.90" y="819.50" font-size="6.95" stroke="#000" stroke-width="0.06">TCR+, UNC0642</text>
</g>
<g id="panelEF">
<text x="260.30" y="503.10" font-size="25.20" stroke="#000" stroke-width="0.43">E</text>
<text x="441.40" y="503.10" font-size="25.20" stroke="#000" stroke-width="0.43">F</text>
<line x1="311.20" y1="528.40" x2="311.20" y2="693.90" stroke="#2e2e2e" stroke-width="1.15" />
<line x1="304.90" y1="693.40" x2="420.50" y2="693.40" stroke="#2e2e2e" stroke-width="1.15" />
<line x1="304.90" y1="693.40" x2="311.20" y2="693.40" stroke="#2e2e2e" stroke-width="1" />
<text x="304.20" y="697.20" font-size="10.20" text-anchor="end" stroke="#000" stroke-width="0.17">0.0</text>
<line x1="304.90" y1="638.57" x2="311.20" y2="638.57" stroke="#2e2e2e" stroke-width="1" />
<text x="304.20" y="642.37" font-size="10.20" text-anchor="end" stroke="#000" stroke-width="0.17">0.5</text>
<line x1="304.90" y1="583.73" x2="311.20" y2="583.73" stroke="#2e2e2e" stroke-width="1" />
<text x="304.20" y="587.53" font-size="10.20" text-anchor="end" stroke="#000" stroke-width="0.17">1.0</text>
<line x1="304.90" y1="528.90" x2="311.20" y2="528.90" stroke="#2e2e2e" stroke-width="1" />
<text x="304.20" y="532.70" font-size="10.20" text-anchor="end" stroke="#000" stroke-width="0.17">1.5</text>
<line x1="327.50" y1="693.40" x2="327.50" y2="699.80" stroke="#2e2e2e" stroke-width="1" />
<text x="327.50" y="710.30" font-size="10.20" text-anchor="middle" stroke="#000" stroke-width="0.17">TCR+</text>
<line x1="365.50" y1="693.40" x2="365.50" y2="699.80" stroke="#2e2e2e" stroke-width="1" />
<text x="365.50" y="710.30" font-size="10.20" text-anchor="middle" stroke="#000" stroke-width="0.17">TCR-</text>
<line x1="403.50" y1="693.40" x2="403.50" y2="699.80" stroke="#2e2e2e" stroke-width="1" />
<text x="403.50" y="710.30" font-size="10.20" text-anchor="middle" stroke="#000" stroke-width="0.17">No T cell</text>
<line x1="316.40" y1="584.35" x2="420.00" y2="584.35" stroke="#333" stroke-width="0.8" stroke-dasharray="1.0 3.1"/>
<text x="365.40" y="511.80" font-size="10.20" text-anchor="middle" font-weight="bold" font-style="italic" stroke="#000" stroke-width="0.17">Patient 1</text>
<text x="365.70" y="526.00" font-size="10.20" text-anchor="middle" stroke="#000" stroke-width="0.17">3D T cell cytotoxicity</text>
<text x="279.00" y="615.65" font-size="10.20" text-anchor="middle" stroke="#000" stroke-width="0.17" transform="rotate(-90 279.00 615.65)">Relative live cells</text>
<text x="321.20" y="544.70" font-size="8.85" stroke="#000" stroke-width="0.15">p=0.0005</text>
<text x="339.60" y="558.30" font-size="13.20" text-anchor="middle" font-weight="bold" stroke="#000" stroke-width="0.22">***</text>
<polyline points="320.2,561.2 320.2,557.0 358.8,557.0 358.8,561.2" fill="none" stroke="#444" stroke-width="0.8"/>
<circle cx="320.70" cy="651.60" r="1.80" fill="#0433ff" />
<circle cx="320.70" cy="664.20" r="1.80" fill="#0433ff" />
<circle cx="320.70" cy="675.80" r="1.80" fill="#0433ff" />
<line x1="321.00" y1="657.10" x2="321.00" y2="671.30" stroke="#555" stroke-width="0.85" />
<line x1="317.80" y1="657.10" x2="324.20" y2="657.10" stroke="#555" stroke-width="0.85" />
<line x1="317.80" y1="671.30" x2="324.20" y2="671.30" stroke="#555" stroke-width="0.85" />
<line x1="316.00" y1="664.20" x2="326.00" y2="664.20" stroke="#111" stroke-width="0.95" />
<circle cx="334.60" cy="661.60" r="1.80" fill="#ff2600" />
<circle cx="334.60" cy="673.10" r="1.80" fill="#ff2600" />
<circle cx="334.60" cy="685.50" r="1.80" fill="#ff2600" />
<line x1="334.85" y1="666.60" x2="334.85" y2="680.00" stroke="#555" stroke-width="0.85" />
<line x1="331.65" y1="666.60" x2="338.05" y2="666.60" stroke="#555" stroke-width="0.85" />
<line x1="331.65" y1="680.00" x2="338.05" y2="680.00" stroke="#555" stroke-width="0.85" />
<line x1="330.10" y1="673.10" x2="339.60" y2="673.10" stroke="#111" stroke-width="0.95" />
<circle cx="358.80" cy="565.40" r="1.80" fill="#0433ff" />
<circle cx="355.60" cy="581.40" r="1.80" fill="#0433ff" />
<circle cx="361.40" cy="579.30" r="1.80" fill="#0433ff" />
<line x1="358.75" y1="570.10" x2="358.75" y2="580.60" stroke="#555" stroke-width="0.85" />
<line x1="355.55" y1="570.10" x2="361.95" y2="570.10" stroke="#555" stroke-width="0.85" />
<line x1="355.55" y1="580.60" x2="361.95" y2="580.60" stroke="#555" stroke-width="0.85" />
<line x1="354.00" y1="575.40" x2="363.50" y2="575.40" stroke="#111" stroke-width="0.95" />
<circle cx="396.90" cy="574.10" r="1.80" fill="#0433ff" />
<circle cx="396.90" cy="585.40" r="1.80" fill="#0433ff" />
<circle cx="396.90" cy="591.20" r="1.80" fill="#0433ff" />
<line x1="396.85" y1="578.50" x2="396.85" y2="588.50" stroke="#555" stroke-width="0.85" />
<line x1="393.65" y1="578.50" x2="400.05" y2="578.50" stroke="#555" stroke-width="0.85" />
<line x1="393.65" y1="588.50" x2="400.05" y2="588.50" stroke="#555" stroke-width="0.85" />
<line x1="391.60" y1="583.30" x2="402.10" y2="583.30" stroke="#111" stroke-width="0.95" />
<line x1="313.50" y1="793.60" x2="313.50" y2="959.90" stroke="#2e2e2e" stroke-width="1.15" />
<line x1="307.20" y1="959.40" x2="423.20" y2="959.40" stroke="#2e2e2e" stroke-width="1.15" />
<line x1="307.20" y1="959.40" x2="313.50" y2="959.40" stroke="#2e2e2e" stroke-width="1" />
<text x="306.50" y="963.20" font-size="10.20" text-anchor="end" stroke="#000" stroke-width="0.17">0.0</text>
<line x1="307.20" y1="904.30" x2="313.50" y2="904.30" stroke="#2e2e2e" stroke-width="1" />
<text x="306.50" y="908.10" font-size="10.20" text-anchor="end" stroke="#000" stroke-width="0.17">0.5</text>
<line x1="307.20" y1="849.20" x2="313.50" y2="849.20" stroke="#2e2e2e" stroke-width="1" />
<text x="306.50" y="853.00" font-size="10.20" text-anchor="end" stroke="#000" stroke-width="0.17">1.0</text>
<line x1="307.20" y1="794.10" x2="313.50" y2="794.10" stroke="#2e2e2e" stroke-width="1" />
<text x="306.50" y="797.90" font-size="10.20" text-anchor="end" stroke="#000" stroke-width="0.17">1.5</text>
<line x1="330.50" y1="959.40" x2="330.50" y2="965.80" stroke="#2e2e2e" stroke-width="1" />
<text x="330.50" y="976.90" font-size="10.20" text-anchor="middle" stroke="#000" stroke-width="0.17">TCR+</text>
<line x1="368.60" y1="959.40" x2="368.60" y2="965.80" stroke="#2e2e2e" stroke-width="1" />
<text x="368.60" y="976.90" font-size="10.20" text-anchor="middle" stroke="#000" stroke-width="0.17">TCR-</text>
<line x1="406.90" y1="959.40" x2="406.90" y2="965.80" stroke="#2e2e2e" stroke-width="1" />
<text x="406.90" y="976.90" font-size="10.20" text-anchor="middle" stroke="#000" stroke-width="0.17">No T cell</text>
<line x1="318.70" y1="849.35" x2="422.70" y2="849.35" stroke="#333" stroke-width="0.8" stroke-dasharray="1.0 3.1"/>
<text x="365.90" y="742.40" font-size="10.20" text-anchor="middle" font-weight="bold" font-style="italic" stroke="#000" stroke-width="0.17">Patient 2</text>
<text x="366.20" y="757.90" font-size="10.20" text-anchor="middle" stroke="#000" stroke-width="0.17">3D T cell cytotoxicity</text>
<text x="281.50" y="881.25" font-size="10.20" text-anchor="middle" stroke="#000" stroke-width="0.17" transform="rotate(-90 281.50 881.25)">Relative live cells</text>
<text x="323.80" y="777.60" font-size="8.85" stroke="#000" stroke-width="0.15">p=0.0043</text>
<text x="342.50" y="788.70" font-size="13.20" text-anchor="middle" font-weight="bold" stroke="#000" stroke-width="0.22">**</text>
<polyline points="323.3,790.7 323.3,786.2 361.4,786.2 361.4,790.7" fill="none" stroke="#444" stroke-width="0.8"/>
<text x="316.70" y="800.70" font-size="8.85" stroke="#000" stroke-width="0.15">p=0.0042</text>
<text x="330.40" y="812.40" font-size="13.20" text-anchor="middle" font-weight="bold" stroke="#000" stroke-width="0.22">**</text>
<polyline points="323.3,814.6 323.3,810.7 337.8,810.7 337.8,814.6" fill="none" stroke="#444" stroke-width="0.8"/>
<circle cx="320.40" cy="821.60" r="1.80" fill="#0433ff" />
<circle cx="323.40" cy="818.80" r="1.80" fill="#0433ff" />
<circle cx="326.40" cy="820.90" r="1.80" fill="#0433ff" />
<line x1="319.00" y1="820.80" x2="327.80" y2="820.80" stroke="#111" stroke-width="0.95" />
<circle cx="337.80" cy="858.00" r="1.80" fill="#ff2600" />
<circle cx="337.80" cy="865.60" r="1.80" fill="#ff2600" />
<circle cx="337.80" cy="885.60" r="1.80" fill="#ff2600" />
<line x1="337.75" y1="861.60" x2="337.75" y2="878.20" stroke="#555" stroke-width="0.85" />
<line x1="334.55" y1="861.60" x2="340.95" y2="861.60" stroke="#555" stroke-width="0.85" />
<line x1="334.55" y1="878.20" x2="340.95" y2="878.20" stroke="#555" stroke-width="0.85" />
<line x1="333.00" y1="870.00" x2="342.50" y2="870.00" stroke="#111" stroke-width="0.95" />
<circle cx="358.40" cy="812.90" r="1.80" fill="#0433ff" />
<circle cx="361.40" cy="810.60" r="1.80" fill="#0433ff" />
<circle cx="364.90" cy="812.90" r="1.80" fill="#0433ff" />
<line x1="357.20" y1="812.60" x2="366.30" y2="812.60" stroke="#111" stroke-width="0.95" />
<circle cx="399.80" cy="839.30" r="1.80" fill="#0433ff" />
<circle cx="399.80" cy="850.60" r="1.80" fill="#0433ff" />
<circle cx="399.80" cy="856.90" r="1.80" fill="#0433ff" />
<line x1="399.80" y1="844.00" x2="399.80" y2="854.50" stroke="#555" stroke-width="0.85" />
<line x1="396.60" y1="844.00" x2="403.00" y2="844.00" stroke="#555" stroke-width="0.85" />
<line x1="396.60" y1="854.50" x2="403.00" y2="854.50" stroke="#555" stroke-width="0.85" />
<line x1="394.80" y1="849.30" x2="404.80" y2="849.30" stroke="#111" stroke-width="0.95" />
<line x1="497.50" y1="531.00" x2="497.50" y2="693.90" stroke="#2e2e2e" stroke-width="1.15" />
<line x1="491.00" y1="693.40" x2="605.70" y2="693.40" stroke="#2e2e2e" stroke-width="1.15" />
<line x1="491.20" y1="693.40" x2="497.50" y2="693.40" stroke="#2e2e2e" stroke-width="1" />
<text x="489.70" y="697.00" font-size="10.20" text-anchor="end" stroke="#000" stroke-width="0.17">0</text>
<line x1="491.20" y1="645.33" x2="497.50" y2="645.33" stroke="#2e2e2e" stroke-width="1" />
<text x="489.70" y="648.93" font-size="10.20" text-anchor="end" stroke="#000" stroke-width="0.17">50</text>
<line x1="491.20" y1="597.27" x2="497.50" y2="597.27" stroke="#2e2e2e" stroke-width="1" />
<text x="489.70" y="600.87" font-size="10.20" text-anchor="end" stroke="#000" stroke-width="0.17">100</text>
<line x1="491.20" y1="549.20" x2="497.50" y2="549.20" stroke="#2e2e2e" stroke-width="1" />
<text x="489.70" y="552.80" font-size="10.20" text-anchor="end" stroke="#000" stroke-width="0.17">150</text>
<line x1="522.50" y1="693.40" x2="522.50" y2="699.80" stroke="#2e2e2e" stroke-width="1" />
<text x="522.50" y="710.30" font-size="10.20" text-anchor="middle" stroke="#000" stroke-width="0.17">TCR+</text>
<line x1="580.80" y1="693.40" x2="580.80" y2="699.80" stroke="#2e2e2e" stroke-width="1" />
<text x="580.80" y="710.30" font-size="10.20" text-anchor="middle" stroke="#000" stroke-width="0.17">TCR-</text>
<text x="554.70" y="511.60" font-size="10.20" text-anchor="middle" font-weight="bold" font-style="italic" stroke="#000" stroke-width="0.17">Patient 1</text>
<text x="549.50" y="526.90" font-size="10.20" text-anchor="middle" stroke="#000" stroke-width="0.17">3D T cell migration</text>
<text x="462.40" y="616.30" font-size="10.20" text-anchor="middle" stroke="#000" stroke-width="0.17" transform="rotate(-90 462.40 616.30)"># T cells migrated</text>
<circle cx="511.50" cy="567.00" r="1.80" fill="#0433ff" />
<circle cx="511.50" cy="609.10" r="1.80" fill="#0433ff" />
<circle cx="511.50" cy="624.40" r="1.80" fill="#0433ff" />
<line x1="511.95" y1="582.70" x2="511.95" y2="617.30" stroke="#555" stroke-width="0.85" />
<line x1="508.75" y1="582.70" x2="515.15" y2="582.70" stroke="#555" stroke-width="0.85" />
<line x1="508.75" y1="617.30" x2="515.15" y2="617.30" stroke="#555" stroke-width="0.85" />
<line x1="504.50" y1="600.20" x2="519.40" y2="600.20" stroke="#111" stroke-width="0.95" />
<circle cx="533.50" cy="538.40" r="1.80" fill="#ff2600" />
<circle cx="533.50" cy="577.50" r="1.80" fill="#ff2600" />
<circle cx="533.50" cy="588.30" r="1.80" fill="#ff2600" />
<line x1="533.50" y1="552.50" x2="533.50" y2="583.40" stroke="#555" stroke-width="0.85" />
<line x1="530.30" y1="552.50" x2="536.70" y2="552.50" stroke="#555" stroke-width="0.85" />
<line x1="530.30" y1="583.40" x2="536.70" y2="583.40" stroke="#555" stroke-width="0.85" />
<line x1="526.00" y1="568.20" x2="541.00" y2="568.20" stroke="#111" stroke-width="0.95" />
<circle cx="569.60" cy="555.50" r="1.80" fill="#0433ff" />
<circle cx="566.30" cy="588.30" r="1.80" fill="#0433ff" />
<circle cx="572.60" cy="585.30" r="1.80" fill="#0433ff" />
<line x1="569.75" y1="565.60" x2="569.75" y2="586.80" stroke="#555" stroke-width="0.85" />
<line x1="566.55" y1="565.60" x2="572.95" y2="565.60" stroke="#555" stroke-width="0.85" />
<line x1="566.55" y1="586.80" x2="572.95" y2="586.80" stroke="#555" stroke-width="0.85" />
<line x1="562.50" y1="576.40" x2="577.00" y2="576.40" stroke="#111" stroke-width="0.95" />
<circle cx="605.40" cy="658.70" r="1.80" fill="#0433ff" />
<text x="610.60" y="662.10" font-size="10.20" stroke="#000" stroke-width="0.17">Untreated</text>
<circle cx="605.40" cy="672.80" r="1.80" fill="#ff2600" />
<text x="610.60" y="676.30" font-size="10.20" stroke="#000" stroke-width="0.17">UNC0642</text>
<line x1="497.50" y1="797.50" x2="497.50" y2="960.50" stroke="#2e2e2e" stroke-width="1.15" />
<line x1="491.00" y1="960.00" x2="605.70" y2="960.00" stroke="#2e2e2e" stroke-width="1.15" />
<line x1="491.20" y1="960.00" x2="497.50" y2="960.00" stroke="#2e2e2e" stroke-width="1" />
<text x="489.70" y="963.60" font-size="10.20" text-anchor="end" stroke="#000" stroke-width="0.17">0</text>
<line x1="491.20" y1="911.93" x2="497.50" y2="911.93" stroke="#2e2e2e" stroke-width="1" />
<text x="489.70" y="915.53" font-size="10.20" text-anchor="end" stroke="#000" stroke-width="0.17">50</text>
<line x1="491.20" y1="863.87" x2="497.50" y2="863.87" stroke="#2e2e2e" stroke-width="1" />
<text x="489.70" y="867.47" font-size="10.20" text-anchor="end" stroke="#000" stroke-width="0.17">100</text>
<line x1="491.20" y1="815.80" x2="497.50" y2="815.80" stroke="#2e2e2e" stroke-width="1" />
<text x="489.70" y="819.40" font-size="10.20" text-anchor="end" stroke="#000" stroke-width="0.17">150</text>
<line x1="522.50" y1="960.00" x2="522.50" y2="966.40" stroke="#2e2e2e" stroke-width="1" />
<text x="522.50" y="976.90" font-size="10.20" text-anchor="middle" stroke="#000" stroke-width="0.17">TCR+</text>
<line x1="580.20" y1="960.00" x2="580.20" y2="966.40" stroke="#2e2e2e" stroke-width="1" />
<text x="580.20" y="976.90" font-size="10.20" text-anchor="middle" stroke="#000" stroke-width="0.17">TCR-</text>
<text x="551.70" y="743.20" font-size="10.20" text-anchor="middle" font-weight="bold" font-style="italic" stroke="#000" stroke-width="0.17">Patient 2</text>
<text x="549.50" y="759.60" font-size="10.20" text-anchor="middle" stroke="#000" stroke-width="0.17">3D T cell migration</text>
<text x="462.40" y="882.90" font-size="10.20" text-anchor="middle" stroke="#000" stroke-width="0.17" transform="rotate(-90 462.40 882.90)"># T cells migrated</text>
<circle cx="511.50" cy="889.90" r="1.80" fill="#0433ff" />
<circle cx="511.50" cy="924.50" r="1.80" fill="#0433ff" />
<circle cx="511.50" cy="935.30" r="1.80" fill="#0433ff" />
<line x1="511.95" y1="902.50" x2="511.95" y2="930.10" stroke="#555" stroke-width="0.85" />
<line x1="508.75" y1="902.50" x2="515.15" y2="902.50" stroke="#555" stroke-width="0.85" />
<line x1="508.75" y1="930.10" x2="515.15" y2="930.10" stroke="#555" stroke-width="0.85" />
<line x1="504.50" y1="916.70" x2="519.40" y2="916.70" stroke="#111" stroke-width="0.95" />
<circle cx="533.50" cy="897.30" r="1.80" fill="#ff2600" />
<circle cx="533.50" cy="911.50" r="1.80" fill="#ff2600" />
<circle cx="533.50" cy="935.70" r="1.80" fill="#ff2600" />
<line x1="533.50" y1="903.70" x2="533.50" y2="926.00" stroke="#555" stroke-width="0.85" />
<line x1="530.30" y1="903.70" x2="536.70" y2="903.70" stroke="#555" stroke-width="0.85" />
<line x1="530.30" y1="926.00" x2="536.70" y2="926.00" stroke="#555" stroke-width="0.85" />
<line x1="526.00" y1="914.80" x2="541.00" y2="914.80" stroke="#111" stroke-width="0.95" />
<circle cx="569.60" cy="904.80" r="1.80" fill="#0433ff" />
<circle cx="569.60" cy="927.50" r="1.80" fill="#0433ff" />
<circle cx="569.00" cy="930.10" r="1.80" fill="#0433ff" />
<line x1="569.75" y1="912.60" x2="569.75" y2="928.60" stroke="#555" stroke-width="0.85" />
<line x1="566.55" y1="912.60" x2="572.95" y2="912.60" stroke="#555" stroke-width="0.85" />
<line x1="566.55" y1="928.60" x2="572.95" y2="928.60" stroke="#555" stroke-width="0.85" />
<line x1="562.50" y1="920.40" x2="577.00" y2="920.40" stroke="#111" stroke-width="0.95" />
</g>
</svg>
</body></html>
